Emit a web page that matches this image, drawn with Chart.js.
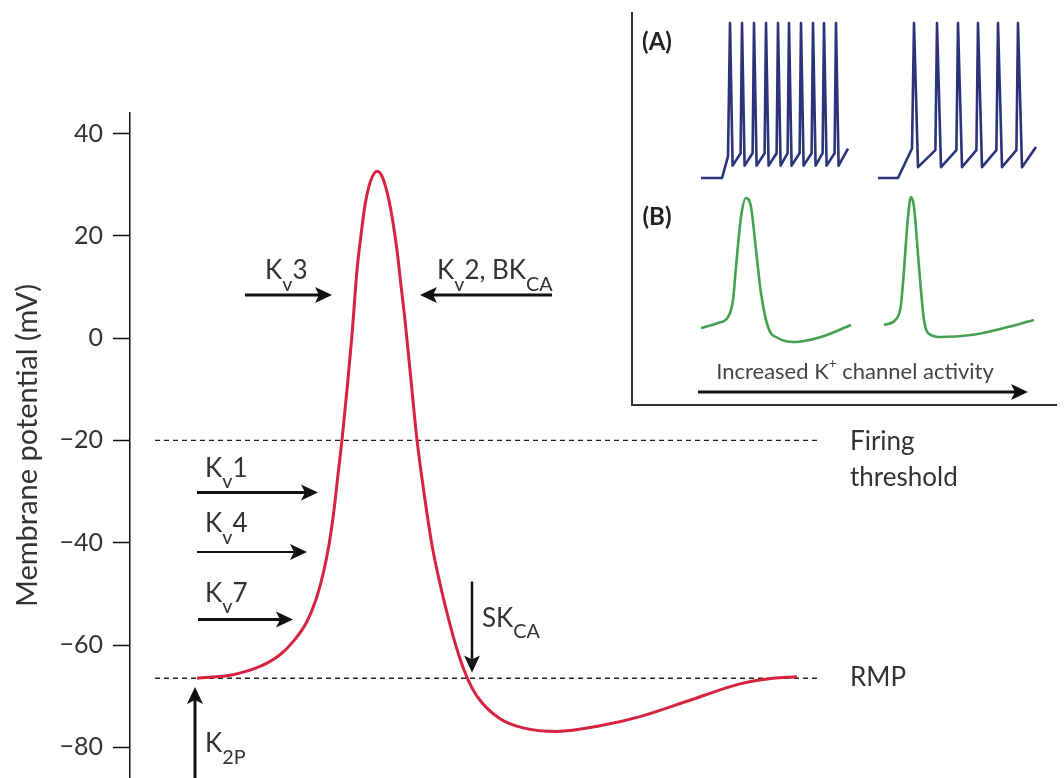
<!DOCTYPE html>
<html><head><meta charset="utf-8">
<script src="https://cdn.jsdelivr.net/npm/chart.js@4.4.1/dist/chart.umd.min.js"></script>
<style>
html,body{margin:0;padding:0;background:#fff;}
#wrap{position:relative;width:1064px;height:778px;overflow:hidden;background:#fff;}
#main{position:absolute;left:0;top:0;}
#insetBox{position:absolute;left:631px;top:12px;width:424px;height:392px;border-left:2px solid #333;border-bottom:2px solid #333;}
#inset{position:absolute;left:0;top:0;}
</style></head><body>
<div id="wrap">
<canvas id="main" width="1064" height="778"></canvas>
<div id="insetBox"><canvas id="inset" width="424" height="392"></canvas></div>
</div>
<script>
// ---------- main action potential (time in ms, membrane potential in mV) ----------
const apTime    = [0, 0.36, 0.63, 0.83, 0.98, 1.10, 1.19, 1.26, 1.32, 1.37, 1.41, 1.45, 1.50, 1.55, 1.60, 1.64, 1.68, 1.72, 1.76, 1.80, 1.84, 1.88, 1.92, 1.96, 2.00, 2.04, 2.08, 2.14, 2.20, 2.28, 2.35, 2.43, 2.51, 2.59, 2.67, 2.75, 2.85, 3.03, 3.26, 3.60, 4.03, 4.43, 4.93, 5.43, 5.76, 6.00];
const apVoltage = [-66.5, -65.8, -64.2, -61.9, -58.9, -55.4, -51.1, -46.2, -40.4, -33.6, -26.7, -19.9, -10.1, 0.6, 13.3, 20.1, 26.0, 29.7, 31.8, 32.6, 32.0, 30.0, 26.9, 22.6, 17.2, 10.3, 3.5, -8.2, -19.9, -31.6, -40.5, -48.0, -54.5, -60.2, -64.9, -68.4, -71.3, -74.4, -76.2, -76.9, -75.8, -74.0, -70.8, -67.6, -66.5, -66.2];
const thresholdMv = -20;
const rmpMv = -66.5;
const refLineTime = [-0.42, 6.23];
const yTickValues = [-80, -60, -40, -20, 0, 20, 40];
const yAxisTitle = 'Membrane potential (mV)';

// channel arrows: [fromTime, fromMv, toTime, toMv, lineWidth]
const channelArrows = [
  [0.48, 8.4, 1.35, 8.4, 3],
  [3.55, 8.4, 2.23, 8.4, 3],
  [0.00, -30.2, 1.21, -30.2, 3],
  [0.00, -41.8, 1.10, -41.8, 2],
  [0.01, -55.0, 0.96, -55.0, 3],
  [-0.02, -87, -0.02, -68.2, 3],
  [2.75, -47.6, 2.75, -65.4, 2.5]
];
// labels: anchor time, anchor mV, text parts
const channelLabels = [
  [0.68, 11.5, [['K'], ['v', 'sub'], ['3']]],
  [2.40, 11.5, [['K'], ['v', 'sub'], ['2, BK'], ['CA', 'sub']]],
  [0.08, -27.1, [['K'], ['v', 'sub'], ['1']]],
  [0.08, -38.0, [['K'], ['v', 'sub'], ['4']]],
  [0.08, -51.5, [['K'], ['v', 'sub'], ['7']]],
  [0.08, -81.0, [['K'], ['2P', 'sub']]],
  [2.85, -56.4, [['SK'], ['CA', 'sub']]],
  [6.53, -21.9, [['Firing']]],
  [6.53, -28.9, [['threshold']]],
  [6.53, -68.1, [['RMP']]]
];

// ---------- inset traces (time in ms, mV) ----------
const fastTrainTrace = [[34,-70],[44.5,-70],[47.5,-56],[48.5,30],[49.8,-62],[53.8,-54],[54.5,30],[55.8,-62],[59.8,-54],[60.5,30],[61.8,-62],[65.8,-54],[66.5,30],[67.8,-62],[71.8,-54],[72.5,30],[73.8,-62],[77.3,-54],[78,30],[79.3,-62],[83.3,-54],[84,30],[85.3,-62],[89.3,-54],[90,30],[91.3,-62],[94.8,-54],[95.5,30],[96.8,-62],[100.8,-54],[101.5,30],[102.8,-62],[107.5,-51]];
const slowTrainTrace = [[122.5,-70],[132.5,-70],[139.5,-51],[140.5,30],[142.5,-63],[151.2,-52],[152,30],[154,-63],[161.7,-52],[162.5,30],[164.5,-63],[171.7,-52],[172.5,30],[174.5,-63],[181.7,-52],[182.5,30],[184.5,-63],[191.7,-52],[192.5,30],[194.5,-63],[201.5,-50]];
const broadApTrace = [[34,-65],[42.5,-61.3],[47.5,-57],[50,-44.6],[51.5,-20.7],[54,15.5],[56.5,29.3],[59,22.8],[61.5,-8.4],[64,-39.6],[67.5,-64.2],[72.5,-72.2],[80.5,-75.1],[94,-71.4],[109,-62.8]];
const narrowApTrace = [[125.5,-62.8],[131.5,-58.5],[133.8,-50],[135,-32.3],[137.5,15.5],[139,30],[140.5,22.8],[143,-20.7],[145.5,-59.1],[149,-70],[154,-71.4],[169,-70],[185.5,-64.9],[200.5,-59.1]];
const insetCaption = [['Increased K'], ['+', 'sup'], [' channel activity']];

// ---------- helpers ----------
function drawArrow(ctx, x1, y1, x2, y2, w, color) {
  const dx = x2 - x1, dy = y2 - y1, len = Math.hypot(dx, dy), ux = dx / len, uy = dy / len;
  const L = 17, H = 8, N = 4;
  ctx.save();
  ctx.strokeStyle = color; ctx.fillStyle = color; ctx.lineWidth = w; ctx.lineCap = 'butt';
  ctx.beginPath(); ctx.moveTo(x1, y1); ctx.lineTo(x2 - ux * (L - N), y2 - uy * (L - N)); ctx.stroke();
  const bx = x2 - ux * L, by = y2 - uy * L;
  ctx.beginPath();
  ctx.moveTo(x2, y2);
  ctx.lineTo(bx - uy * H, by + ux * H);
  ctx.lineTo(x2 - ux * (L - N), y2 - uy * (L - N));
  ctx.lineTo(bx + uy * H, by - ux * H);
  ctx.closePath(); ctx.fill();
  ctx.restore();
}
function drawParts(ctx, x, y, parts, size, opt) {
  opt = opt || {};
  const weight = opt.weight || 'normal', family = opt.family || 'Lato', color = opt.color || '#333';
  const specs = parts.map(p => {
    const kind = p[1];
    const s = kind === 'sub' ? size * 0.76 : kind === 'sup' ? size * 0.62 : size;
    const dy = kind === 'sub' ? size * 0.44 : kind === 'sup' ? -size * 0.38 : 0;
    ctx.font = weight + ' ' + s + 'px ' + family;
    return {t: p[0], s, dy, w: ctx.measureText(p[0]).width};
  });
  const total = specs.reduce((a, b) => a + b.w, 0);
  let cx = opt.align === 'center' ? x - total / 2 : x;
  ctx.save();
  ctx.fillStyle = color; ctx.textAlign = 'left'; ctx.textBaseline = opt.baseline || 'alphabetic';
  specs.forEach(sp => {
    ctx.font = weight + ' ' + sp.s + 'px ' + family;
    ctx.fillText(sp.t, cx, y + sp.dy);
    cx += sp.w;
  });
  ctx.restore();
}

const mainAnnotations = {
  id: 'mainAnnotations',
  afterDatasetsDraw(chart) {
    const ctx = chart.ctx, xs = chart.scales.x, ys = chart.scales.y;
    channelArrows.forEach(a => {
      drawArrow(ctx, xs.getPixelForValue(a[0]), ys.getPixelForValue(a[1]), xs.getPixelForValue(a[2]), ys.getPixelForValue(a[3]), a[4], '#111');
    });
    channelLabels.forEach(l => {
      drawParts(ctx, xs.getPixelForValue(l[0]), ys.getPixelForValue(l[1]), l[2], 26, {color: '#333'});
    });
  }
};

new Chart(document.getElementById('main'), {
  type: 'line',
  data: {
    datasets: [
      {label: 'Action potential', data: apTime.map((t, i) => ({x: t, y: apVoltage[i]})), borderColor: '#d6233f', borderWidth: 3, pointRadius: 0, cubicInterpolationMode: 'monotone', fill: false},
      {label: 'Firing threshold', data: refLineTime.map(t => ({x: t, y: thresholdMv})), borderColor: '#222', borderWidth: 1.3, borderDash: [5, 4], pointRadius: 0, fill: false},
      {label: 'RMP', data: refLineTime.map(t => ({x: t, y: rmpMv})), borderColor: '#222', borderWidth: 1.3, borderDash: [5, 4], pointRadius: 0, fill: false}
    ]
  },
  options: {
    responsive: false, animation: false, devicePixelRatio: 1,
    layout: {padding: {top: 113, left: 0, right: 0, bottom: 0}},
    plugins: {legend: {display: false}, tooltip: {enabled: false}},
    scales: {
      x: {type: 'linear', min: -0.67, max: 8.67, display: false},
      y: {
        type: 'linear', min: -86, max: 44,
        afterBuildTicks: s => { s.ticks = yTickValues.map(v => ({value: v})); },
        afterFit: s => { s.width = 130; s.paddingTop = 0; s.paddingBottom = 0; },
        ticks: {font: {family: 'Lato', size: 25}, color: '#333', padding: 10, callback: v => String(v).replace('-', '\u2212')},
        grid: {drawOnChartArea: false, drawTicks: true, tickLength: 17, tickColor: '#111', tickWidth: 1.5},
        border: {display: true, color: '#111', width: 1.5},
        title: {display: true, text: yAxisTitle, font: {family: 'Lato', size: 29}, color: '#333', padding: {top: 10, bottom: 0}}
      }
    }
  },
  plugins: [mainAnnotations]
});

// ---------- inset ----------
const insetAnnotations = {
  id: 'insetAnnotations',
  afterDatasetsDraw(chart) {
    const ctx = chart.ctx, xs = chart.scales.x, ya = chart.scales.yA, yb = chart.scales.yB;
    drawParts(ctx, xs.getPixelForValue(12), ya.getPixelForValue(17.7), [['(A)']], 24, {weight: 'bold', align: 'center', baseline: 'middle', color: '#222'});
    drawParts(ctx, xs.getPixelForValue(12), yb.getPixelForValue(15.5), [['(B)']], 24, {weight: 'bold', align: 'center', baseline: 'middle', color: '#222'});
    drawParts(ctx, xs.getPixelForValue(111), yb.getPixelForValue(-96.8), insetCaption, 22, {align: 'center', baseline: 'middle', color: '#444'});
    drawArrow(ctx, xs.getPixelForValue(32.5), yb.getPixelForValue(-111.3), xs.getPixelForValue(197.5), yb.getPixelForValue(-111.3), 3, '#111');
  }
};
const toXY = arr => arr.map(p => ({x: p[0], y: p[1]}));
new Chart(document.getElementById('inset'), {
  type: 'line',
  data: {
    datasets: [
      {label: 'A1', data: toXY(fastTrainTrace), yAxisID: 'yA', borderColor: '#2b347a', borderWidth: 2.6, pointRadius: 0, tension: 0, borderJoinStyle: 'round'},
      {label: 'A2', data: toXY(slowTrainTrace), yAxisID: 'yA', borderColor: '#2b347a', borderWidth: 2.6, pointRadius: 0, tension: 0, borderJoinStyle: 'round'},
      {label: 'B1', data: toXY(broadApTrace), yAxisID: 'yB', borderColor: '#45a04f', borderWidth: 2.6, pointRadius: 0, cubicInterpolationMode: 'monotone'},
      {label: 'B2', data: toXY(narrowApTrace), yAxisID: 'yB', borderColor: '#45a04f', borderWidth: 2.6, pointRadius: 0, cubicInterpolationMode: 'monotone'}
    ]
  },
  options: {
    responsive: false, animation: false, devicePixelRatio: 1,
    layout: {padding: 0},
    plugins: {legend: {display: false}, tooltip: {enabled: false}},
    scales: {
      x: {type: 'linear', min: 0, max: 212, display: false},
      yA: {type: 'linear', position: 'left', min: -215.8, max: 37.1, display: false},
      yB: {type: 'linear', position: 'left', min: -120, max: 164.1, display: false}
    }
  },
  plugins: [insetAnnotations]
});
</script>
</body></html>
